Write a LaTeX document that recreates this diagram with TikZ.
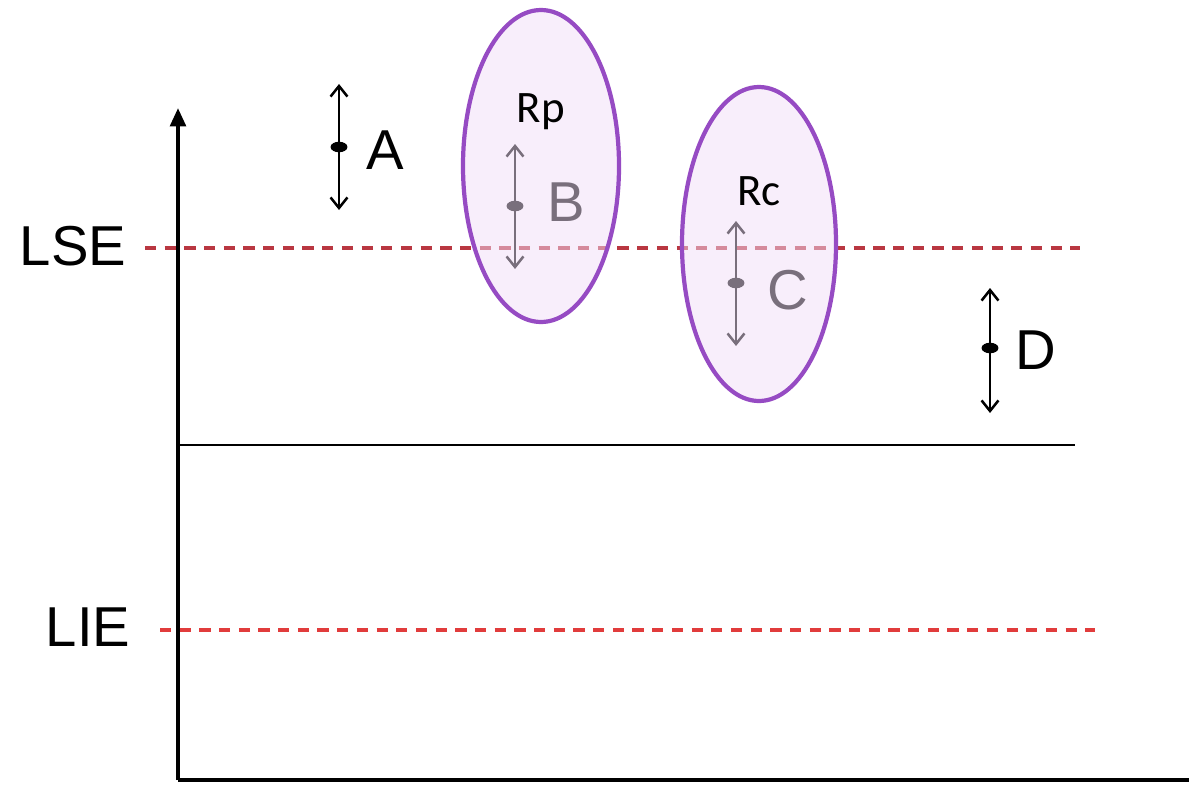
\documentclass[tikz,border=0pt]{standalone}
\usepackage{fontspec}
\setmainfont{Liberation Sans}
\newfontfamily\calib{Carlito}
\usetikzlibrary{arrows.meta,shapes.geometric}
\definecolor{lsered}{RGB}{185,55,65}
\definecolor{liered}{RGB}{225,60,60}
\definecolor{ellfill}{RGB}{242,222,248}
\definecolor{ellline}{RGB}{150,75,195}
\tikzset{
  axis/.style={line width=2.8pt},
  limline/.style={line width=2.2pt, dash pattern=on 8pt off 6pt},
  dblarrow/.style={line width=1.8pt, {Straight Barb[length=7.5pt,width=12pt]}-{Straight Barb[length=7.5pt,width=12pt]}},
  dotmark/.style={ellipse, fill=black, inner sep=0pt, minimum width=12pt, minimum height=7.5pt},
  biglabel/.style={font=\fontsize{40}{44}\selectfont, inner sep=0pt},
  rlabel/.style={font=\calib\fontsize{32}{35}\selectfont, inner sep=0pt},
  regionfill/.style={fill=ellfill, fill opacity=0.5},
  regionline/.style={draw=ellline, line width=3pt}
}
\begin{document}
\begin{tikzpicture}[x=0.025cm,y=-0.025cm]
\useasboundingbox (0,0) rectangle (1189,795);
% axes
\coordinate (orig) at (178,780);
\coordinate (ytip) at (178,108);
\coordinate (xend) at (1189,780);
\draw[axis,-{Triangle[length=13pt,width=11pt]}] (orig) -- (ytip);
\draw[axis] (orig) -- (xend);
% limit lines
\coordinate (lse1) at (145,248); \coordinate (lse2) at (1080,248);
\coordinate (lie1) at (160,630); \coordinate (lie2) at (1095,630);
\coordinate (mid1) at (178,445); \coordinate (mid2) at (1075,445);
\draw[limline, lsered] (lse1) -- (lse2);
\draw[limline, liered] (lie1) -- (lie2);
\draw[line width=1.6pt] (mid1) -- (mid2);
\node[biglabel] (LSE) at (73,246) {LSE};
\node[biglabel] (LIE) at (88,627) {LIE};
% A
\coordinate (a1) at (339,84); \coordinate (a2) at (339,210);
\draw[dblarrow] (a1) -- (a2);
\node[dotmark] (ad) at (339,147) {};
\node[biglabel] (A) at (385,150) {A};
% B
\coordinate (b1) at (515,144); \coordinate (b2) at (515,269);
\draw[dblarrow] (b1) -- (b2);
\node[dotmark] (bd) at (515,206) {};
\node[biglabel] (B) at (566,202) {B};
% C
\coordinate (c1) at (736,221); \coordinate (c2) at (736,346);
\draw[dblarrow] (c1) -- (c2);
\node[dotmark] (cd) at (736,283) {};
\node[biglabel] (C) at (788,290) {C};
% D
\coordinate (d1) at (990,288); \coordinate (d2) at (990,413);
\draw[dblarrow] (d1) -- (d2);
\node[dotmark] (dd) at (990,348) {};
\node[biglabel] (D) at (1036,350) {D};
% regions
\fill[regionfill] (541,166) ellipse [x radius=78, y radius=156];
\draw[regionline] (541,166) ellipse [x radius=78, y radius=156];
\fill[regionfill] (759,244) ellipse [x radius=77, y radius=157];
\draw[regionline] (759,244) ellipse [x radius=77, y radius=157];
\node[rlabel] (Rp) at (541,112) {Rp};
\node[rlabel] (Rc) at (759,191) {Rc};
\end{tikzpicture}
\end{document}
